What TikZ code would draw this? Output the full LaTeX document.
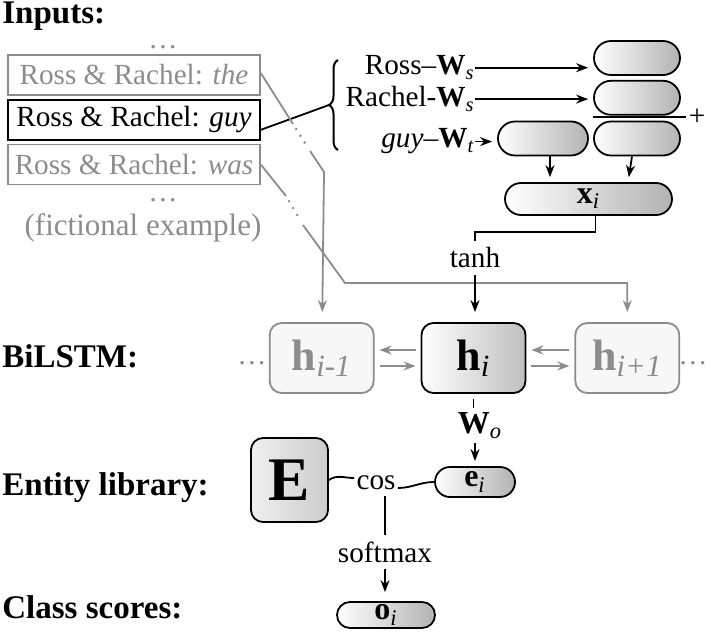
\documentclass[tikz,border=0pt]{standalone}
\usepackage{fontspec}
\setmainfont{Liberation Serif}
\usetikzlibrary{arrows.meta,positioning,shapes.misc,decorations.pathreplacing}
\definecolor{lgrey}{gray}{0.55}

\begin{document}
\begin{tikzpicture}[x=0.5pt,y=-0.5pt,
   >={Stealth[length=6pt,width=4.5pt]},
   every node/.style={font=\fontsize{14.6}{17}\selectfont},
   rowlabel/.style={anchor=base west,inner sep=0pt,font=\fontsize{16.5}{20}\selectfont\bfseries},
   inbox/.style={draw=lgrey,text=lgrey,line width=0.75pt,minimum height=20pt,minimum width=126pt,inner xsep=2pt,inner ysep=0pt},
   pill/.style={rounded rectangle,draw,line width=0.9pt,left color=white,right color=black!30,minimum width=43pt,minimum height=17pt,inner sep=0pt,font=\fontsize{16}{16}\selectfont},
   hbox/.style={draw,line width=0.9pt,rounded corners=6pt,minimum width=52pt,minimum height=35pt,inner sep=0pt,left color=white,right color=black!25,font=\fontsize{22}{22}\selectfont},
   ghbox/.style={hbox,draw=lgrey,left color=black!3,right color=black!3,text=lgrey},
   conn/.style={line width=0.9pt},
   gconn/.style={line width=0.9pt,lgrey},
   gdots/.style={lgrey,line width=1.4pt,line cap=round,dash pattern=on 0pt off 4pt,shorten <=3pt,shorten >=3pt}]
   \useasboundingbox (0,0) rectangle (706,636);

   % row labels
   \node[rowlabel] (inputs)  at (2,24)  {Inputs:};
   \node[rowlabel] (bilstm)  at (2,367) {BiLSTM:};
   \node[rowlabel] (entlib)  at (2,495) {Entity library:};
   \node[rowlabel] (classes) at (2,618) {Class scores:};

   % inputs
   \node[inbox] (the) at (134,75) {Ross \& Rachel: \textit{the}};
   \node[inbox,draw=black,text=black,line width=1pt,below=1.5pt of the] (guy) {Ross \& Rachel: \textit{guy}};
   \node[inbox,below=1.5pt of guy] (was) {Ross \& Rachel: \textit{was}};
   \node[text=lgrey,inner sep=0pt] (dotsup)   at (163,47)  {\dots};
   \node[text=lgrey,inner sep=0pt] (dotsdown) at (163,200) {\dots};
   \node[text=lgrey,font=\fontsize{15.5}{18}\selectfont] (fict) at (143,228) {(fictional example)};

   % embeddings
   \draw[decorate,decoration={brace,amplitude=4.5pt},line width=1pt] (338,150) -- (338,60);
   \coordinate (tip) at (329,105);
   \draw[conn] ([yshift=-5pt]guy.east) -- (tip);

   \node[anchor=base east,inner sep=0pt] (ross)   at (475,75)  {Ross--\textbf{W}\textsubscript{\textit{s}}};
   \node[anchor=base east,inner sep=0pt] (rachel) at (475,107) {Rachel-\textbf{W}\textsubscript{\textit{s}}};
   \node[anchor=base east,inner sep=0pt] (guyw)   at (475,148) {\textit{guy}--\textbf{W}\textsubscript{\textit{t}}};

   \node[pill] (b1) at (637,58) {};
   \node[pill,below=2pt of b1] (b2) {};
   \node[pill] (b3) at (637,138.5) {};
   \node[pill,minimum width=45pt] (b4) at (543,138.5) {};
   \node[inner sep=1pt] (plus) at (697,117) {+};
   \draw[conn] (plus.west -| b3.west) -- (plus.west);

   \draw[->,conn,shorten >=2.5pt] (ross.east) -- (ross.east -| b1.west);
   \draw[->,conn,shorten >=2.5pt] (rachel.east) -- (rachel.east -| b2.west);
   \draw[->,conn,shorten >=2.5pt] (guyw.east) -- (guyw.east -| b4.west);

   \node[pill,minimum width=83.5pt,minimum height=16pt] (xi) at (588.5,199) {\textbf{x}\textsubscript{\textit{i}}};
   \draw[->,conn,shorten >=2.5pt] ([xshift=3.5pt]b4.south) -- ([xshift=3.5pt]b4.south |- xi.north);
   \draw[->,conn,shorten >=2.5pt] ([xshift=-2.5pt]b3.south) -- ([xshift=-4.5pt]b3.south |- xi.north);

   \node (tanh) at (475,258) {tanh};
   \draw[conn] ([xshift=3.5pt]xi.south) -- ++(0,16) -| (tanh.north);

   % BiLSTM
   \node[hbox] (hi) at (473.5,358) {\textbf{h}\textsubscript{\textit{i}}};
   \node[ghbox,left=23pt of hi] (hm1) {\textbf{h}\textsubscript{\textit{i-1}}};
   \node[ghbox,right=24pt of hi] (hp1) {\textbf{h}\textsubscript{\textit{i+1}}};
   \node[text=lgrey,inner sep=0pt] (ldots) at (252,363) {\dots};
   \node[text=lgrey,inner sep=0pt] (rdots) at (693,363) {\dots};

   \draw[->,gconn,shorten <=2.5pt,shorten >=2.5pt] ([yshift=4pt]hi.west) -- ([yshift=4pt]hm1.east);
   \draw[->,gconn,shorten <=2.5pt,shorten >=2.5pt] ([yshift=-4pt]hm1.east) -- ([yshift=-4pt]hi.west);
   \draw[->,gconn,shorten <=2.5pt,shorten >=2.5pt] ([yshift=4pt]hp1.west) -- ([yshift=4pt]hi.east);
   \draw[->,gconn,shorten <=2.5pt,shorten >=2.5pt] ([yshift=-4pt]hi.east) -- ([yshift=-4pt]hp1.west);

   % context words into the BiLSTM
   \coordinate (t1) at (293,124);
   \coordinate (t2) at (310,151);
   \coordinate (t3) at (324,172);
   \draw[gconn] ([yshift=1pt]the.east) -- (t1);
   \draw[gdots] (t1) -- (t2);
   \draw[->,gconn,shorten >=5pt] (t2) -- (t3) -- (hm1);

   \coordinate (w1) at (286,196);
   \coordinate (w2) at (303,225);
   \coordinate (w3) at (345,283);
   \draw[gconn] (was.east) -- (w1);
   \draw[gdots] (w1) -- (w2);
   \draw[->,gconn,shorten >=5pt] (w2) -- (w3) -| (hp1);

   \draw[->,conn,shorten >=5pt] (tanh.south) -- (tanh.south |- hi.north);

   % entity library
   \node[anchor=north,inner sep=2pt,font=\fontsize{16}{16}\selectfont] (wo) at (480,408) {\textbf{W}\textsubscript{\textit{o}}};
   \node[draw,line width=0.9pt,rounded corners=6pt,minimum width=38.5pt,minimum height=42pt,inner sep=0pt,
         left color=black!6,right color=black!20,font=\fontsize{31}{31}\selectfont\bfseries] (E) at (289.5,480) {E};
   \node[inner sep=1pt] (cos) at (376,483) {cos};
   \node[pill,minimum width=40pt,minimum height=15pt] (ei) at (475,482) {\textbf{e}\textsubscript{\textit{i}}};

   \draw[conn,shorten <=2.5pt] (hi.south) -- (hi.south |- wo.north);
   \draw[->,conn,shorten >=2.5pt] (ei.north |- wo.south) -- (ei.north);
   \draw[conn] (E.east) to[out=35,in=180] ([yshift=2.5pt]cos.west);
   \draw[conn] ([yshift=-2.5pt]cos.east) to[out=0,in=180] (ei.west);

   % class scores
   \node (softmax) at (385,552) {softmax};
   \node[pill,minimum width=49pt,minimum height=13pt] (oi) at (386,615) {\textbf{o}\textsubscript{\textit{i}}};
   \draw[conn,shorten <=2pt] (cos.south -| softmax.north) -- (softmax.north);
   \draw[->,conn,shorten >=4.5pt] (softmax.south) -- (softmax.south |- oi.north);
\end{tikzpicture}
\end{document}
